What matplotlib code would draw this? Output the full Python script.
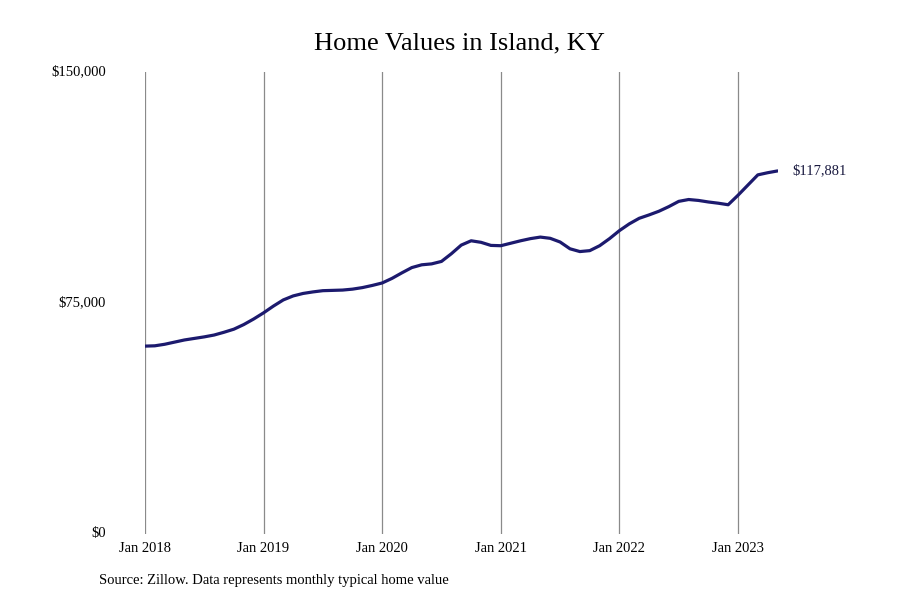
import matplotlib
matplotlib.use("Agg")
import matplotlib.pyplot as plt

plt.rcParams['font.family'] = ['Liberation Serif', 'DejaVu Serif']

# monthly typical home value, Jan 2018 .. May 2023 (thousands of $)
values_2018 = [61.0, 61.1, 61.6, 62.3, 63.0, 63.5, 64.0, 64.6, 65.5, 66.5, 68.0, 69.8]
values_2019 = [71.8, 74.0, 76.0, 77.3, 78.1, 78.6, 79.0, 79.1, 79.2, 79.5, 80.0, 80.7]
values_2020 = [81.5, 83.0, 84.8, 86.5, 87.4, 87.7, 88.5, 91.0, 93.8, 95.2, 94.7, 93.7]
values_2021 = [93.6, 94.4, 95.2, 95.9, 96.4, 96.0, 94.8, 92.6, 91.7, 92.0, 93.6, 95.9]
values_2022 = [98.5, 100.7, 102.5, 103.6, 104.8, 106.3, 108.0, 108.6, 108.3, 107.8, 107.4, 106.9]
values_2023 = [110.0, 113.3, 116.6, 117.3, 117.881]

values = [v * 1000 for v in values_2018 + values_2019 + values_2020 +
          values_2021 + values_2022 + values_2023]
months = list(range(len(values)))

tick_pos = [0, 12, 24, 36, 48, 60]
tick_labels = ['Jan 2018', 'Jan 2019', 'Jan 2020', 'Jan 2021', 'Jan 2022', 'Jan 2023']
y_ticks = [0, 75000, 150000]
y_labels = ['$0', '$75,000', '$150,000']

fig = plt.figure(figsize=(9, 6), dpi=100)
ax = fig.add_axes([0.161, 0.11, 0.703, 0.77])

ax.plot(months, values, color='#1c1a6e', linewidth=2.3, solid_capstyle='round')
ax.set_xlim(0, months[-1])
ax.set_ylim(0, 150000)

ax.set_xticks(tick_pos)
ax.set_xticklabels(tick_labels, fontsize=10.5)
ax.set_yticks(y_ticks)
ax.set_yticklabels(y_labels, fontsize=10.5)
ax.tick_params(axis='x', length=0, pad=6)
ax.tick_params(axis='y', length=0, pad=28)
for lab in ax.get_yticklabels():
    lab.set_verticalalignment('center')

ax.grid(axis='x', color='#8a8a8a', linewidth=0.9)
ax.grid(axis='y', visible=False)
for s in ax.spines.values():
    s.set_visible(False)

ax.text(months[-1] + 1.5, values[-1], '${:,.0f}'.format(values[-1]),
        fontsize=10.5, va='center', ha='left', color='#1a1a40')

fig.text(0.51, 0.928, 'Home Values in Island, KY', fontsize=19, ha='center', va='center')
fig.text(0.11, 0.033, 'Source: Zillow. Data represents monthly typical home value',
         fontsize=10.5, ha='left', va='center')

fig.savefig('out.png', dpi=100)
